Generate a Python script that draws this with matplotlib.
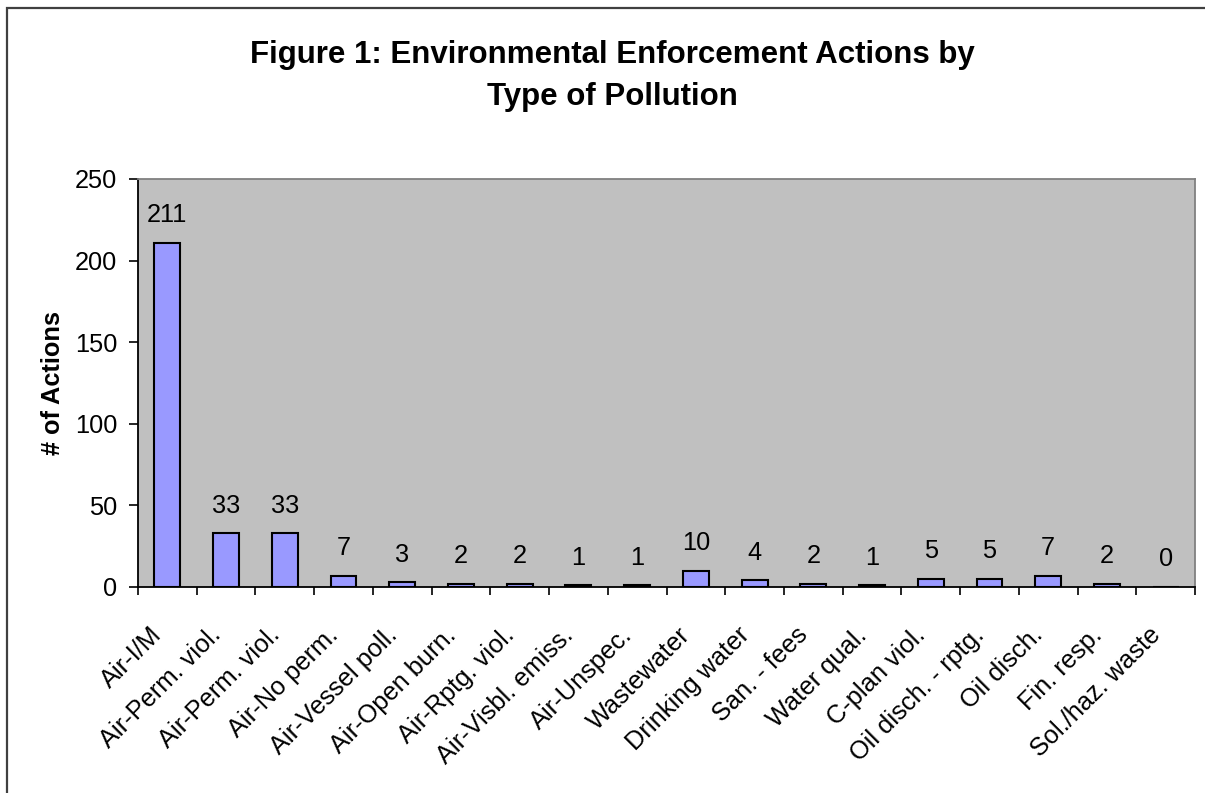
import matplotlib
matplotlib.use("Agg")
import matplotlib.pyplot as plt
import matplotlib.transforms as mtransforms
from matplotlib.patches import Rectangle
import numpy as np

categories = [
    "Air-I/M", "Air-Perm. viol.", "Air-Perm. viol.", "Air-No perm.",
    "Air-Vessel poll.", "Air-Open burn.", "Air-Rptg. viol.", "Air-Visbl. emiss.",
    "Air-Unspec.", "Wastewater", "Drinking water", "San. - fees",
    "Water qual.", "C-plan viol.", "Oil disch. - rptg.", "Oil disch.",
    "Fin. resp.", "Sol./haz. waste",
]
actions = [211, 33, 33, 7, 3, 2, 2, 1, 1, 10, 4, 2, 1, 5, 5, 7, 2, 0]
title_lines = ["Figure 1: Environmental Enforcement Actions by", "Type of Pollution"]
y_label = "# of Actions"
y_ticks = [0, 50, 100, 150, 200, 250]

plt.rcParams['font.family'] = ['Liberation Sans', 'DejaVu Sans']
FS = 18.3

W, H = 1205, 793
fig = plt.figure(figsize=(W / 100, H / 100), dpi=100)
fig.patch.set_facecolor('white')

# outer chart frame (runs off the right and bottom edges)
frame = Rectangle((7 / W, -0.2), 1.5, 1.2 - 8 / H, transform=fig.transFigure,
                  fill=False, edgecolor='#404040', linewidth=1.6, clip_on=False)
fig.add_artist(frame)

ax = fig.add_axes([138 / W, 1 - 587 / H, (1195 - 138) / W, (587 - 179) / H])
ax.set_facecolor('#C0C0C0')

x = np.arange(len(categories))
ax.bar(x, actions, width=0.44, color='#9999FF', edgecolor='black', linewidth=1.5, zorder=3)

for xi, v in zip(x, actions):
    ax.annotate(str(v), (xi, v), xytext=(0, 14.8), textcoords='offset points',
                ha='center', va='baseline', fontsize=FS, color='black')

ax.set_xlim(-0.5, len(categories) - 0.5)
ax.set_ylim(0, 250)
ax.set_yticks(y_ticks)
ax.set_yticklabels([str(t) for t in y_ticks], fontsize=FS)
ax.tick_params(axis='y', direction='out', length=6.5, width=1.2, pad=8.5, color='black')

# category labels at bar centres, tick marks at category boundaries
ax.set_xticks(x)
ax.set_xticklabels(categories, fontsize=FS, rotation=45, ha='right', va='center',
                   rotation_mode='anchor')
ax.set_xticks(np.arange(len(categories) + 1) - 0.5, minor=True)
ax.tick_params(axis='x', which='major', length=0, pad=32)
ax.tick_params(axis='x', which='minor', direction='out', length=5.5, width=1.2, color='black')
shift = mtransforms.ScaledTranslation(-9 / 100, 0, fig.dpi_scale_trans)
for lbl in ax.get_xticklabels():
    lbl.set_transform(lbl.get_transform() + shift)

for side in ('left', 'bottom'):
    ax.spines[side].set_color('black')
    ax.spines[side].set_linewidth(1.3)
for side in ('top', 'right'):
    ax.spines[side].set_color('#808080')
    ax.spines[side].set_linewidth(1.3)

ax.set_ylabel(y_label, fontsize=FS, fontweight='bold', labelpad=7)

fig.text(612 / W, 1 - 63 / H, title_lines[0], fontsize=22.5, fontweight='bold',
         ha='center', va='baseline')
fig.text(612 / W, 1 - 105 / H, title_lines[1], fontsize=22.5, fontweight='bold',
         ha='center', va='baseline')

fig.savefig('out.png', dpi=100)
